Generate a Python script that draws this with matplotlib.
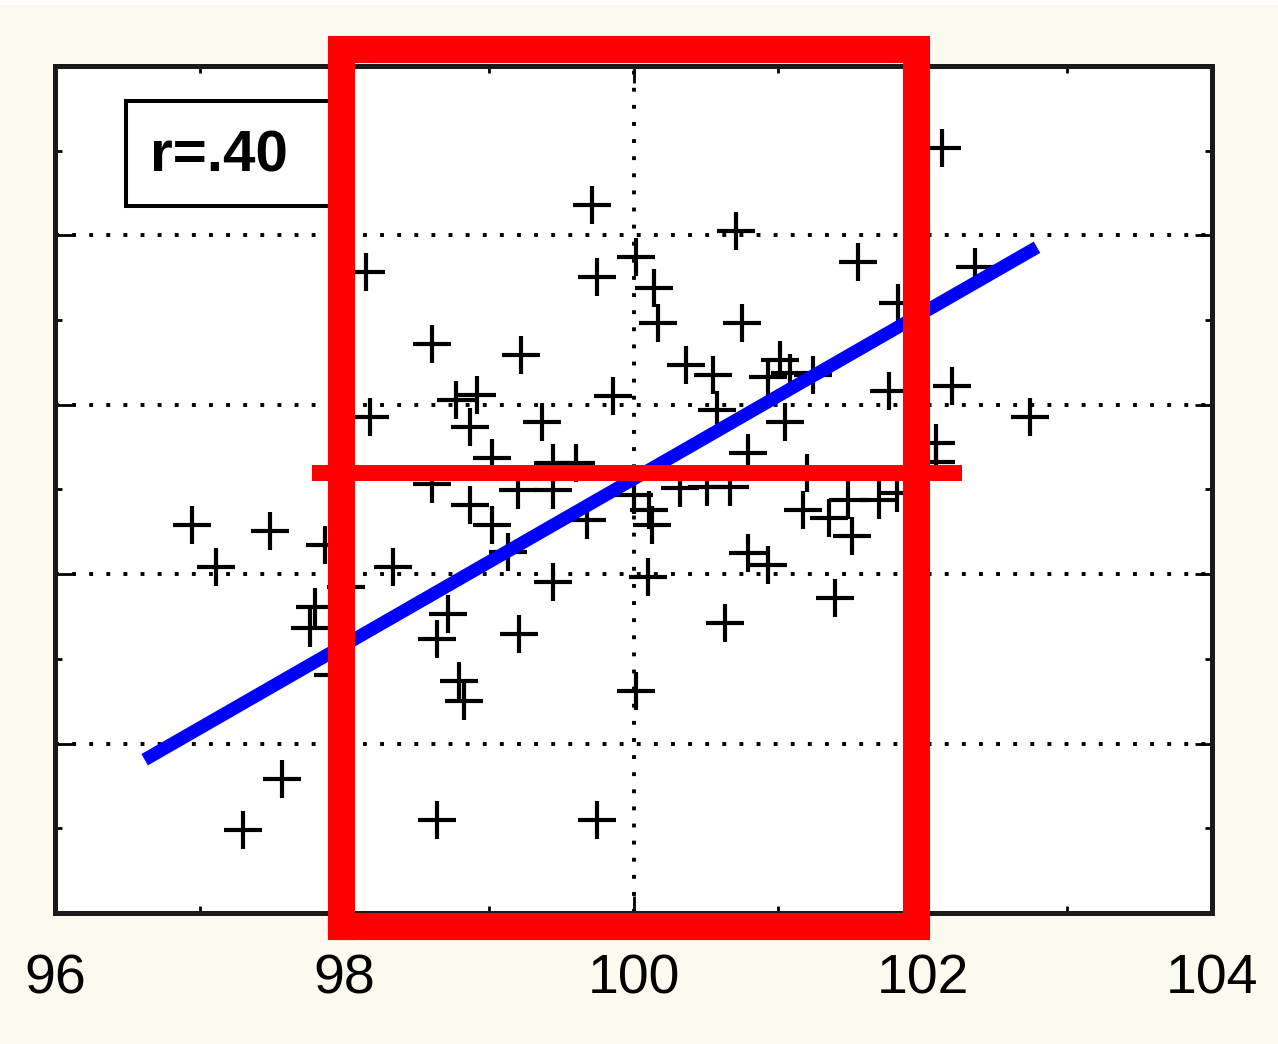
import matplotlib
matplotlib.use("Agg")
import matplotlib.pyplot as plt
from matplotlib.patches import Rectangle
from matplotlib.ticker import MultipleLocator

# scatter points
x_vals = [102.13, 99.71, 100.71, 100.02, 101.55, 102.36, 98.15, 99.75, 100.14, 101.83,
          100.17, 100.75, 98.61, 99.22, 100.36, 100.55, 100.93, 101.08, 101.24, 101.01,
          101.77, 102.20, 102.74, 99.86, 98.77, 98.92, 98.18, 98.87, 99.37, 100.58,
          101.05, 102.09, 102.09, 100.79, 99.02, 99.44, 99.60, 98.61, 99.20, 99.44,
          100.32, 100.51, 100.67, 101.20, 100.00, 101.48, 101.70, 101.82, 101.17, 101.35,
          99.02, 99.68, 100.13, 101.51, 96.95, 97.49, 97.87, 97.11, 98.34, 99.13,
          100.79, 100.93, 100.10, 99.44, 98.01, 97.80, 97.76, 98.72, 98.64, 99.21,
          100.63, 101.39, 97.92, 98.79, 98.83, 100.02, 97.57, 97.30, 98.64, 99.75,
          100.11, 98.87]
y_vals = [103.03, 102.36, 102.05, 101.75, 101.69, 101.63, 101.57, 101.51, 101.38, 101.20,
          100.97, 100.97, 100.72, 100.59, 100.47, 100.35, 100.33, 100.38, 100.35, 100.53,
          100.16, 100.22, 99.86, 100.10, 100.06, 100.12, 99.86, 99.74, 99.80, 99.94,
          99.80, 99.55, 99.32, 99.43, 99.37, 99.31, 99.31, 99.06, 98.99, 98.99,
          99.02, 99.03, 99.03, 99.19, 98.94, 98.88, 98.88, 98.96, 98.76, 98.66,
          98.58, 98.64, 98.58, 98.45, 98.58, 98.51, 98.34, 98.08, 98.08, 98.26,
          98.25, 98.11, 97.97, 97.91, 97.85, 97.61, 97.36, 97.53, 97.23, 97.29,
          97.42, 97.72, 96.81, 96.74, 96.50, 96.62, 95.58, 94.98, 95.10, 95.10,
          98.76, 98.82]

# fitted line end points
fit_x = [96.62, 102.79]
fit_y = [95.81, 101.86]

# red highlight: box around x 98..102 and the mean line
box_x = [97.98, 101.95]
box_y = [93.85, 104.195]
mean_y = 99.195
mean_x = [97.78, 102.27]

r_text = "r=.40"
x_ticks = [96, 98, 100, 102, 104]

plt.rcParams['font.family'] = ['Liberation Sans', 'DejaVu Sans']

fig = plt.figure(figsize=(12.78, 10.44), dpi=100)
fig.patch.set_facecolor('#fcfaef')
ax = fig.add_axes([55 / 1278, 1 - 913 / 1044, 1157 / 1278, 847 / 1044])
ax.set_facecolor('white')

ax.set_xlim(96, 104)
ax.set_ylim(94, 104)
ax.set_xticks(x_ticks)
ax.set_xticklabels([str(t) for t in x_ticks])
ax.xaxis.set_minor_locator(MultipleLocator(1))
ax.yaxis.set_major_locator(MultipleLocator(2))
ax.yaxis.set_minor_locator(MultipleLocator(1))
ax.set_yticklabels([])
ax.tick_params(which='both', direction='in', top=True, right=True, width=2, color='black')
ax.tick_params(which='major', length=12, labelsize=40, pad=29)
ax.tick_params(which='minor', length=5)
for s in ax.spines.values():
    s.set_linewidth(3.6)
    s.set_color('#1a1a1a')

ax.grid(True, which='major', color='black', linestyle=(0, (1, 3.4)), linewidth=2.8)
ax.set_axisbelow(True)

ax.plot(x_vals, y_vals, linestyle='none', marker='+', markersize=28,
        markeredgewidth=3, color='black', zorder=3)

ax.plot(fit_x, fit_y, color='#0000ff', linewidth=9.4, solid_capstyle='butt', zorder=4)

# r box
ax.add_patch(Rectangle((0.0614, 0.8347), 0.19, 0.124, transform=ax.transAxes,
                       facecolor='white', edgecolor='black', linewidth=2.9, zorder=5))
ax.text(0.0821, 0.875, r_text, transform=ax.transAxes, fontsize=42, fontweight='bold',
        ha='left', va='baseline', zorder=6)

ax.plot([mean_x[0], mean_x[1]], [mean_y, mean_y], color='#ff0000', linewidth=11.5,
        solid_capstyle='butt', zorder=7, clip_on=False)
ax.plot([box_x[0], box_x[1], box_x[1], box_x[0], box_x[0]],
        [box_y[0], box_y[0], box_y[1], box_y[1], box_y[0]],
        color='#ff0000', linewidth=19.5, solid_joinstyle='miter', zorder=8, clip_on=False)

# white strip along the top edge
fig.patches.append(Rectangle((0, 1 - 5 / 1044), 1, 5 / 1044, transform=fig.transFigure,
                             facecolor='white', edgecolor='none'))

fig.savefig("out.png", dpi=100, facecolor=fig.get_facecolor())
